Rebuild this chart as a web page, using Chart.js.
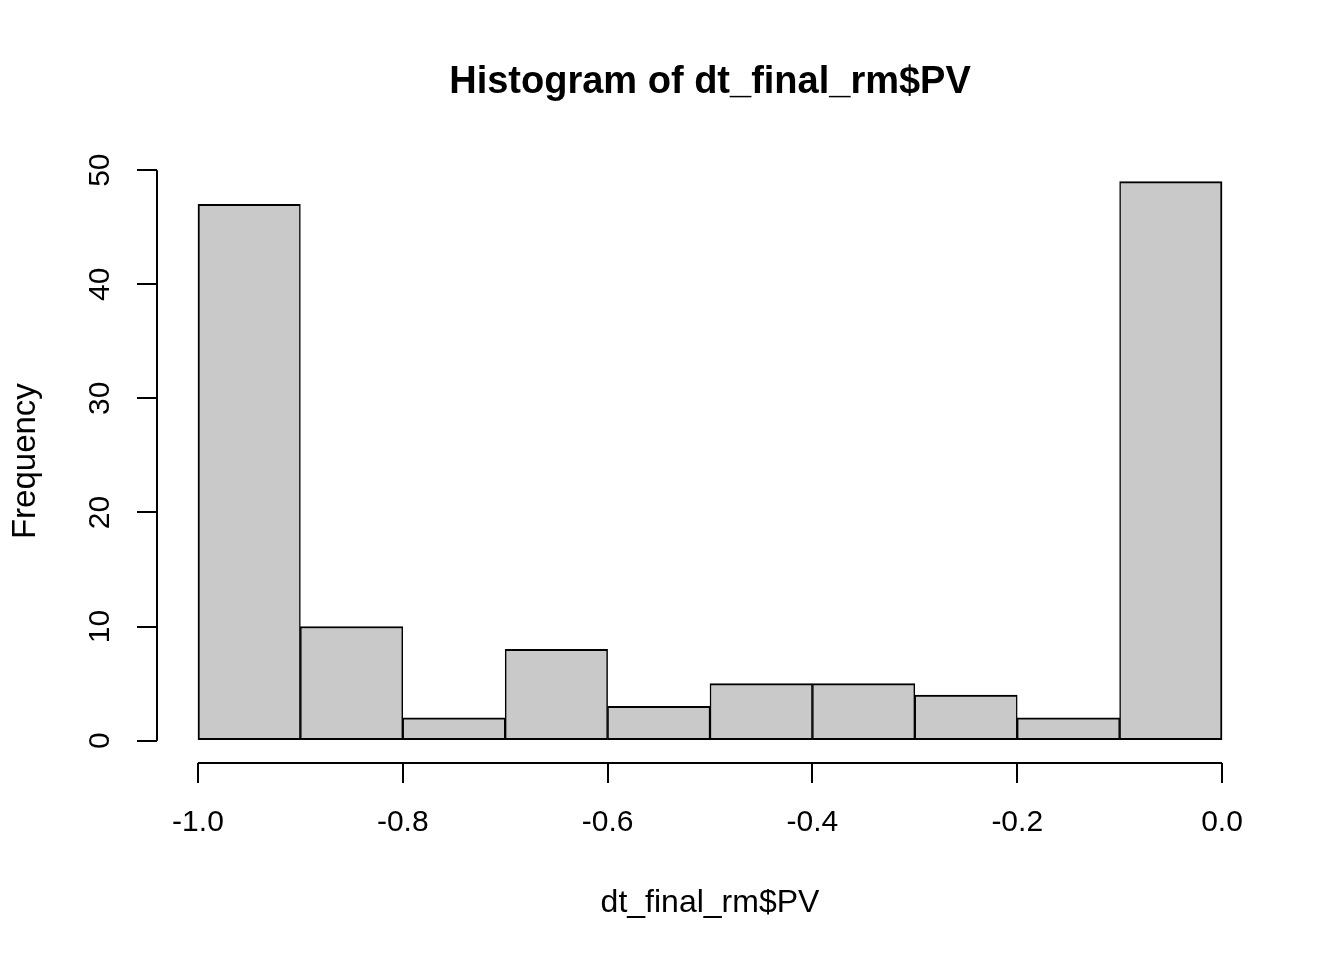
<!DOCTYPE html>
<html>
<head>
<meta charset="utf-8">
<title>Histogram of dt_final_rm$PV</title>
<script src="https://cdn.jsdelivr.net/npm/chart.js@4"></script>
<style>
  body { margin: 0; background: #fff; }
  #wrap { width: 1344px; height: 960px; position: relative; }
</style>
</head>
<body>
<div id="wrap"><canvas id="hist"></canvas></div>
<script>
  // histogram bins (breaks) and counts
  var breaks = [-1.0, -0.9, -0.8, -0.7, -0.6, -0.5, -0.4, -0.3, -0.2, -0.1, 0.0];
  var counts = [47, 10, 2, 8, 3, 5, 5, 4, 2, 49];

  var xTicks = [-1.0, -0.8, -0.6, -0.4, -0.2, 0.0];
  var xTickLabels = ['-1.0', '-0.8', '-0.6', '-0.4', '-0.2', '0.0'];
  var yTicks = [0, 10, 20, 30, 40, 50];
  var yTickLabels = ['0', '10', '20', '30', '40', '50'];

  var points = counts.map(function (c, i) {
    return { x: (breaks[i] + breaks[i + 1]) / 2, y: c };
  });

  Chart.defaults.font.family = '"Liberation Sans", Arial, Helvetica, sans-serif';
  Chart.defaults.color = '#000';

  // R draws the axis line only from the first to the last tick
  var rAxes = {
    id: 'rAxes',
    afterDraw: function (chart) {
      var c = chart.ctx, a = chart.chartArea;
      var xs = chart.scales.x, ys = chart.scales.y;
      c.save();
      c.strokeStyle = '#000';
      c.lineWidth = 2;
      c.beginPath();
      c.moveTo(xs.getPixelForValue(xTicks[0]), a.bottom);
      c.lineTo(xs.getPixelForValue(xTicks[xTicks.length - 1]), a.bottom);
      c.moveTo(a.left, ys.getPixelForValue(yTicks[0]));
      c.lineTo(a.left, ys.getPixelForValue(yTicks[yTicks.length - 1]));
      c.stroke();
      c.restore();
    }
  };

  var ctx = document.getElementById('hist').getContext('2d');
  var chart = new Chart(ctx, {
    type: 'bar',
    data: {
      datasets: [{
        label: 'Frequency',
        data: points,
        backgroundColor: 'rgb(201, 201, 201)',
        borderColor: '#000',
        borderWidth: function (c) {
          return {
            top: 2, bottom: 2,
            left: c.dataIndex === 0 ? 2 : 1.5,
            right: c.dataIndex === counts.length - 1 ? 2 : 1.5
          };
        },
        borderSkipped: false,
        barPercentage: 1,
        categoryPercentage: 1
      }]
    },
    options: {
      responsive: true,
      maintainAspectRatio: false,
      animation: false,
      layout: { padding: { left: 0, right: 81, top: 0, bottom: 0 } },
      plugins: {
        legend: { display: false },
        tooltip: { enabled: false },
        title: {
          display: true,
          fullSize: false,
          text: 'Histogram of dt_final_rm$PV',
          font: { size: 38, weight: 'bold' },
          padding: { top: 60, bottom: 53.6 }
        }
      },
      scales: {
        x: {
          type: 'linear',
          min: -1.04,
          max: 0.04,
          offset: false,
          afterBuildTicks: function (s) {
            s.ticks = xTicks.map(function (v) { return { value: v }; });
          },
          afterFit: function (s) { s.height = 197; },
          ticks: {
            maxRotation: 0,
            minRotation: 0,
            padding: 22,
            font: { size: 30 },
            callback: function (v, i) { return xTickLabels[i]; }
          },
          grid: {
            offset: false,
            drawOnChartArea: false,
            drawTicks: true,
            tickLength: 20,
            color: '#000',
            lineWidth: 2
          },
          border: { display: false },
          title: {
            display: true,
            text: 'dt_final_rm$PV',
            font: { size: 32 },
            padding: { top: 0, bottom: 38 }
          }
        },
        y: {
          type: 'linear',
          min: -1.96,
          max: 50.96,
          afterBuildTicks: function (s) {
            s.ticks = yTicks.map(function (v) { return { value: v }; });
          },
          afterFit: function (s) { s.width = 157; },
          ticks: {
            minRotation: 90,
            maxRotation: 90,
            crossAlign: 'center',
            padding: 20,
            font: { size: 30 },
            callback: function (v, i) { return yTickLabels[i]; }
          },
          grid: {
            drawOnChartArea: false,
            drawTicks: true,
            tickLength: 20,
            color: '#000',
            lineWidth: 2
          },
          border: { display: false },
          title: {
            display: true,
            text: 'Frequency',
            font: { size: 33 },
            padding: { top: 6, bottom: 0 }
          }
        }
      }
    },
    plugins: [rAxes]
  });
</script>
</body>
</html>
